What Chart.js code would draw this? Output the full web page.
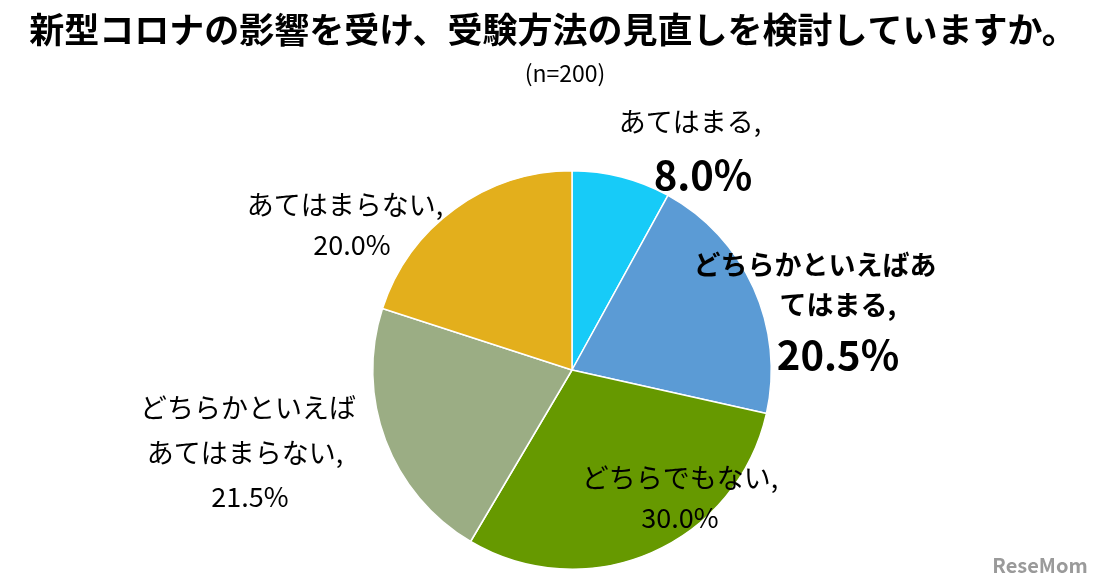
<!DOCTYPE html>
<html><head><meta charset="utf-8">
<script src="https://cdn.jsdelivr.net/npm/chart.js@4"></script>
<style>html,body{margin:0;padding:0;background:#fff;}#w{width:1109px;height:585px;position:relative;}</style>
</head><body><div id="w"><canvas id="c"></canvas></div>
<script>
const categories = ["あてはまる","どちらかといえばあてはまる","どちらでもない","どちらかといえばあてはまらない","あてはまらない"];
const values = [8.0, 20.5, 30.0, 21.5, 20.0];
const colors = ["#17CBF8","#5B9BD5","#669900","#9BAD84","#E3AF1C"];
// [text, style(0 regular,1 bold label,2 bold big), x, y]
const labelLines = [
  [["あてはまる,",0,690,122],["8.0%",2,703,175]],
  [["どちらかといえばあ",1,815,265],["てはまる,",1,838,305],["20.5%",2,838,355]],
  [["どちらでもない,",0,680,478],["30.0%",0,680,518]],
  [["どちらかといえば",0,248,408],["あてはまらない,",0,245,453],["21.5%",0,250,497]],
  [["あてはまらない,",0,345,205],["20.0%",0,352,245]]
];
const font = '"Noto Sans CJK JP", sans-serif';
const textPlugin = {
  id:'txt',
  afterDraw(chart){
    const ctx = chart.ctx; ctx.save();
    ctx.fillStyle = '#000'; ctx.textAlign='center'; ctx.textBaseline='middle';
    ctx.font = 'bold 35px '+font;
    ctx.fillText('新型コロナの影響を受け、受験方法の見直しを検討していますか。', 553, 30);
    ctx.font = '23px '+font;
    ctx.fillText('(n=200)', 565, 73);
    labelLines.forEach(lines=>lines.forEach(([t,s,x,y])=>{
      ctx.font = (s===2 ? 'bold 40px ' : s===1 ? 'bold 27px ' : '27px ') + font;
      ctx.fillText(t, x, y);
    }));
    ctx.font = 'bold 20px '+font; ctx.fillStyle='#9a9a9a';
    ctx.fillText('ReseMom', 1040, 565);
    ctx.restore();
  }
};
new Chart(document.getElementById('c'), {
  type:'pie',
  data:{labels:categories, datasets:[{data:values, backgroundColor:colors, borderColor:'#fff', borderWidth:1.5}]},
  options:{
    responsive:true, maintainAspectRatio:false, animation:false,
    layout:{padding:{top:170,bottom:15,left:35,right:0}},
    plugins:{legend:{display:false}, tooltip:{enabled:false}}
  },
  plugins:[textPlugin]
});
</script></body></html>
